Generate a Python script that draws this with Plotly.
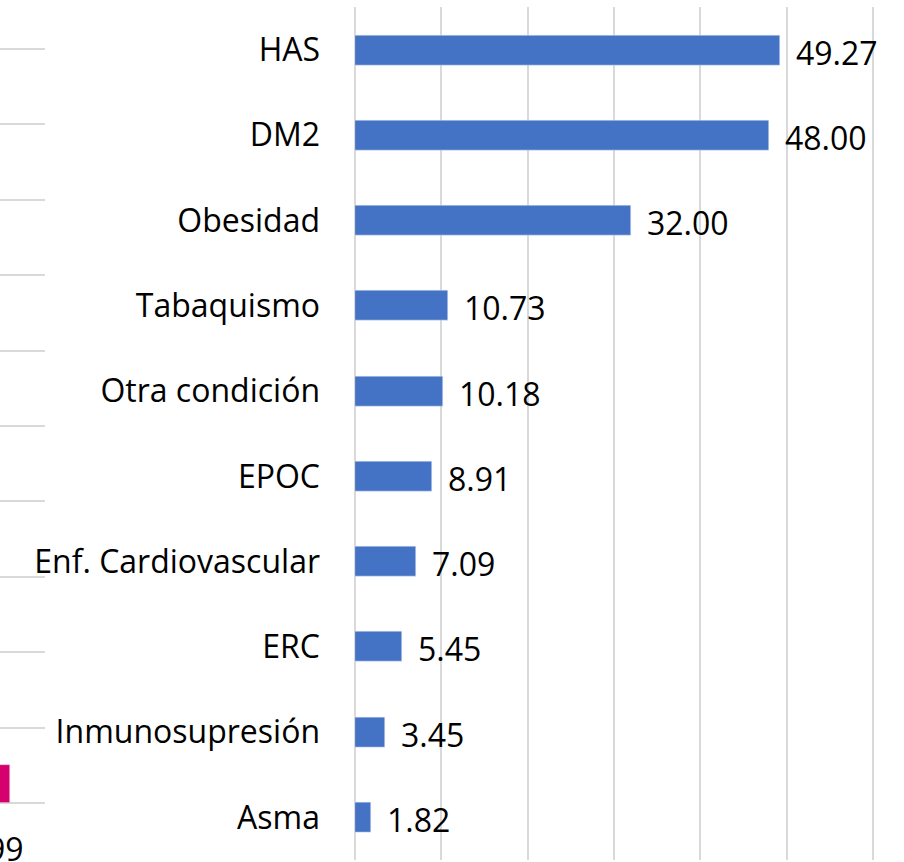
import plotly.graph_objects as go

categories = ["HAS", "DM2", "Obesidad", "Tabaquismo", "Otra condición", "EPOC",
              "Enf. Cardiovascular", "ERC", "Inmunosupresión", "Asma"]
values = [49.27, 48.00, 32.00, 10.73, 10.18, 8.91, 7.09, 5.45, 3.45, 1.82]
labels = [f"{v:.2f}" for v in values]

# fragment of neighbouring chart (left edge)
left_cats = [0]
left_values = [0.5]
left_label = "99"

W, H = 904, 862
FONT = "Open Sans"
FS = 32
PX_PER_UNIT = (873 - 355) / 60
X_MAX = 61
Y2_STEP = (803 - 49) / 10
Y2_MAX = 10.2

fig = go.Figure()
fig.add_trace(go.Bar(
    y=categories, x=values, orientation="h",
    marker=dict(color="#4472C4"), width=0.352,
    xaxis="x", yaxis="y", hoverinfo="skip",
))
fig.add_trace(go.Bar(
    x=left_cats, y=left_values, marker=dict(color="#D6006F"), width=0.44,
    xaxis="x2", yaxis="y2", hoverinfo="skip",
))

annotations = []
for c, v, t in zip(categories, values, labels):
    annotations.append(dict(x=v, y=c, xref="x", yref="y", text=t, showarrow=False,
                            xanchor="left", yanchor="middle", xshift=14, yshift=-2,
                            font=dict(family=FONT, size=FS, color="#000000")))
annotations.append(dict(x=26 / W, y=(H - 848) / H, xref="paper", yref="paper",
                        text=left_label, showarrow=False, xanchor="right", yanchor="middle",
                        font=dict(family=FONT, size=FS, color="#000000")))

fig.update_layout(
    width=W, height=H,
    margin=dict(l=0, r=0, t=0, b=0),
    paper_bgcolor="white", plot_bgcolor="white",
    showlegend=False,
    font=dict(family=FONT, size=FS, color="#000000"),
    xaxis=dict(domain=[355 / W, (355 + X_MAX * PX_PER_UNIT) / W], range=[0, X_MAX], dtick=10,
               showgrid=True, gridcolor="#D9D9D9", gridwidth=1.5,
               showticklabels=False, zeroline=True, zerolinecolor="#D9D9D9", zerolinewidth=1.5,
               showline=False, fixedrange=True),
    yaxis=dict(domain=[2 / H, (H - 7.4) / H], autorange="reversed",
               categoryorder="array", categoryarray=categories,
               showgrid=False, zeroline=False, showline=False,
               ticks="", ticklabelstandoff=34,
               tickfont=dict(family=FONT, size=FS, color="#000000")),
    xaxis2=dict(domain=[0, 45 / W], range=[0, 1], anchor="y2",
                showgrid=False, showticklabels=False, zeroline=False, showline=False),
    yaxis2=dict(domain=[(H - 803) / H, (H - 803 + Y2_MAX * Y2_STEP) / H], range=[0, Y2_MAX],
                dtick=1, anchor="x2",
                showgrid=True, gridcolor="#D9D9D9", gridwidth=1.5,
                showticklabels=False, zeroline=True, zerolinecolor="#D9D9D9", zerolinewidth=1.5,
                showline=False),
    annotations=annotations,
    bargap=0,
)

fig.write_html("out.html", config={"displayModeBar": False},
               post_script="document.body.style.margin='0';document.body.style.overflow='hidden';")
